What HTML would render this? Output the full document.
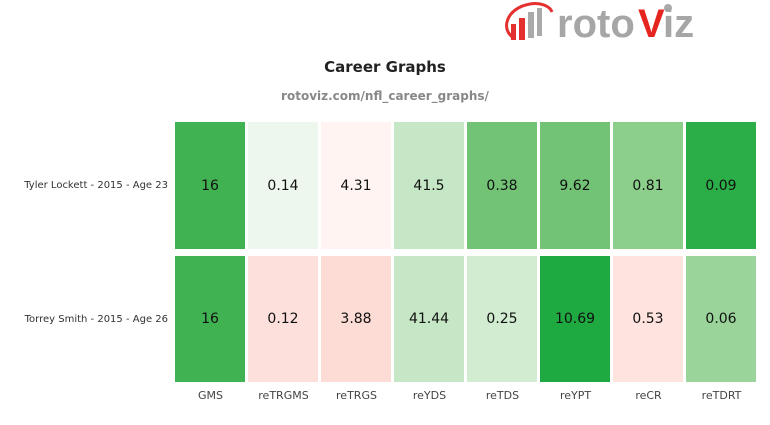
<!DOCTYPE html>
<html><head><style>
body{margin:0;width:770px;height:425px;background:#fff;font-family:"DejaVu Sans","Liberation Sans",sans-serif;position:relative;overflow:hidden}
.c{position:absolute;width:70px;display:flex;align-items:center;justify-content:center;font-size:14px;color:#111}
.t{position:absolute;font-size:11px;color:#444;text-align:center;width:73px}
.r{position:absolute;font-size:10px;color:#333;right:602px;text-align:right;white-space:nowrap}
</style></head><body>
<svg style="position:absolute;left:500px;top:0" width="200" height="48">
<path d="M14 38 C0 30 6 8 30 4 C40 2 50 6 52 12" stroke="#e53030" stroke-width="3" fill="none"/>
<rect x="11" y="24" width="5" height="16" fill="#e53030"/><rect x="19" y="18" width="6" height="22" fill="#e53030"/>
<rect x="28" y="12" width="6" height="26" fill="#aaa"/><rect x="37" y="8" width="5" height="28" fill="#aaa"/>
<circle cx="168" cy="8" r="4" fill="#aaa"/>
<text x="57" y="37" font-family="Liberation Sans" font-weight="bold" font-size="40" fill="#a6a6a6">roto</text>
<text x="138" y="37" font-family="Liberation Sans" font-weight="bold" font-size="40" fill="#e52520">V</text>
<text x="163" y="37" font-family="Liberation Sans" font-weight="bold" font-size="40" fill="#a6a6a6">iz</text>
</svg>
<div style="position:absolute;left:0;width:770px;top:58px;text-align:center;font-weight:bold;font-size:15px;color:#222">Career Graphs</div>
<div style="position:absolute;left:0;width:770px;top:89px;text-align:center;font-weight:bold;font-size:12px;color:#888">rotoviz.com/nfl_career_graphs/</div>
<div class="r" style="top:180px">Tyler Lockett - 2015 - Age 23</div>
<div class="r" style="top:314px">Torrey Smith - 2015 - Age 26</div>
<div class="c" style="left:175px;top:122px;height:127px;background:#41b252">16</div>
<div class="c" style="left:248px;top:122px;height:127px;background:#eef7ee">0.14</div>
<div class="c" style="left:321px;top:122px;height:127px;background:#fff4f2">4.31</div>
<div class="c" style="left:394px;top:122px;height:127px;background:#c6e7c6">41.5</div>
<div class="c" style="left:467px;top:122px;height:127px;background:#72c375">0.38</div>
<div class="c" style="left:540px;top:122px;height:127px;background:#72c375">9.62</div>
<div class="c" style="left:613px;top:122px;height:127px;background:#8bcf8b">0.81</div>
<div class="c" style="left:686px;top:122px;height:127px;background:#2bad47">0.09</div>
<div class="c" style="left:175px;top:256px;height:126px;background:#41b252">16</div>
<div class="c" style="left:248px;top:256px;height:126px;background:#fde0dc">0.12</div>
<div class="c" style="left:321px;top:256px;height:126px;background:#fddcd5">3.88</div>
<div class="c" style="left:394px;top:256px;height:126px;background:#c6e7c6">41.44</div>
<div class="c" style="left:467px;top:256px;height:126px;background:#d2ecd2">0.25</div>
<div class="c" style="left:540px;top:256px;height:126px;background:#1ea941">10.69</div>
<div class="c" style="left:613px;top:256px;height:126px;background:#fee3df">0.53</div>
<div class="c" style="left:686px;top:256px;height:126px;background:#9ad49a">0.06</div>
<div class="t" style="left:174px;top:389px">GMS</div>
<div class="t" style="left:247px;top:389px">reTRGMS</div>
<div class="t" style="left:320px;top:389px">reTRGS</div>
<div class="t" style="left:393px;top:389px">reYDS</div>
<div class="t" style="left:466px;top:389px">reTDS</div>
<div class="t" style="left:539px;top:389px">reYPT</div>
<div class="t" style="left:612px;top:389px">reCR</div>
<div class="t" style="left:685px;top:389px">reTDRT</div>
</body></html>
